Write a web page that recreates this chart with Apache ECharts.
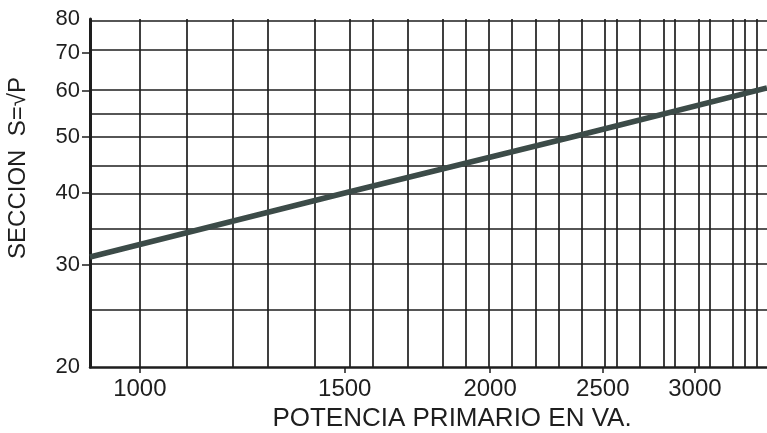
<!DOCTYPE html>
<html>
<head>
<meta charset="utf-8">
<script src="https://cdn.jsdelivr.net/npm/echarts@6/dist/echarts.min.js"></script>
<style>
  html, body { margin: 0; padding: 0; background: #fff; }
  #chart { width: 767px; height: 433px; }
</style>
</head>
<body>
<div id="chart"></div>
<script>
  // valores (escala log-log)
  var potencia = [906, 1500, 2400, 3460];
  var seccion = [31, 40, 50.5, 60.8];

  var xRange = [906, 3460];
  var yRange = [20, 80];
  var xTickLabels = [1000, 1500, 2000, 2500, 3000];
  var yTickLabels = [20, 30, 40, 50, 60, 70, 80];
  var yTickMarks = [30, 40, 50, 60, 70];
  var xGrid = [1000, 1100, 1200, 1300, 1400, 1500, 1600, 1700, 1800, 1900, 2000, 2100, 2200,
               2300, 2400, 2500, 2600, 2700, 2800, 2900, 3000, 3100, 3200, 3300, 3400];
  var yGrid = [25, 30, 35, 40, 45, 50, 55, 60, 70, 80];

  var lg = Math.log10;
  var unLg = function (v) { return Math.round(Math.pow(10, v)); };

  var myChart = echarts.init(document.getElementById('chart'));

  var gridLines = [];
  xGrid.forEach(function (v) { gridLines.push({ xAxis: lg(v) }); });
  yGrid.forEach(function (v) { gridLines.push({ yAxis: lg(v) }); });

  var option = {
    backgroundColor: '#fff',
    animation: false,
    grid: { left: 90, right: 0, top: 19, bottom: 66, containLabel: false },
    xAxis: {
      type: 'value',
      min: lg(xRange[0]),
      max: lg(xRange[1]),
      axisLine: { show: true, lineStyle: { color: '#1e1e1e', width: 2.5 } },
      axisTick: { show: true, length: 6, customValues: xTickLabels.map(lg), lineStyle: { color: '#1e1e1e', width: 1.5 } },
      axisLabel: {
        customValues: xTickLabels.map(lg),
        formatter: unLg,
        margin: 10,
        color: '#1e1e1e',
        fontFamily: 'Liberation Sans',
        fontSize: 24
      },
      splitLine: { show: false }
    },
    yAxis: {
      type: 'value',
      min: lg(yRange[0]),
      max: lg(yRange[1]),
      axisLine: { show: true, lineStyle: { color: '#1e1e1e', width: 3 } },
      axisTick: { show: true, length: 8, customValues: yTickMarks.map(lg), lineStyle: { color: '#1e1e1e', width: 1.5 } },
      axisLabel: {
        customValues: yTickLabels.map(lg),
        formatter: unLg,
        margin: 10,
        color: '#1e1e1e',
        fontFamily: 'Liberation Sans',
        fontSize: 22
      },
      splitLine: { show: false }
    },
    graphic: [
      {
        type: 'text',
        x: 18, y: 168,
        rotation: Math.PI / 2,
        style: {
          text: 'SECCION  S=√P',
          fill: '#1e1e1e',
          font: '24px "Liberation Sans Narrow", "Liberation Sans", sans-serif',
          align: 'center',
          verticalAlign: 'middle'
        }
      },
      {
        type: 'text',
        x: 452, y: 419,
        style: {
          text: 'POTENCIA PRIMARIO EN VA.',
          fill: '#1e1e1e',
          font: '26px "Liberation Sans", sans-serif',
          align: 'center',
          verticalAlign: 'middle'
        }
      }
    ],
    series: [
      {
        type: 'line',
        data: potencia.map(function (p, i) { return [lg(p), lg(seccion[i])]; }),
        showSymbol: false,
        symbol: 'none',
        lineStyle: { color: '#3c4b48', width: 5.5 },
        z: 5,
        markLine: {
          silent: true,
          symbol: ['none', 'none'],
          label: { show: false },
          lineStyle: { color: '#1e1e1e', width: 1.7, type: 'solid' },
          data: gridLines,
          z: 1
        }
      }
    ]
  };

  option && myChart.setOption(option);
</script>
</body>
</html>
